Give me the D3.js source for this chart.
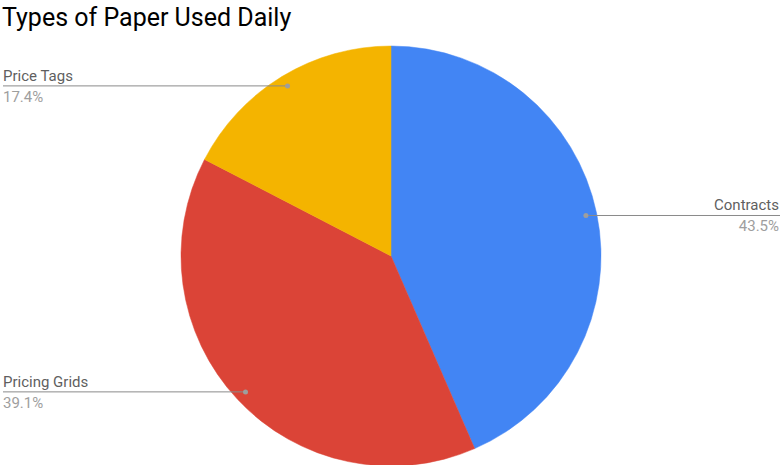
<!DOCTYPE html>
<html><head><meta charset="utf-8">
<script src="https://cdn.jsdelivr.net/npm/d3@7"></script>
<style>body{margin:0;background:#fff}svg{display:block}</style>
</head><body>
<svg id="c" width="780" height="465"></svg>
<script>
const categories = ["Contracts", "Pricing Grids", "Price Tags"];
const values = [10, 9, 4];
const colors = ["#4285f4", "#db4437", "#f4b400"];
const title = "Types of Paper Used Daily";

const W = 780, H = 465, cx = 391, cy = 256, R = 210;
const svg = d3.select("#c");
svg.append("text").attr("x", 2).attr("y", 26)
  .attr("font-family", "Roboto").attr("font-size", 25).attr("fill", "#000").text(title);

const data = categories.map((c, i) => ({name: c, value: values[i], color: colors[i]}));
const total = d3.sum(values);
const pie = d3.pie().value(d => d.value).sort(null);
const arcs = pie(data);
const arc = d3.arc().innerRadius(0).outerRadius(R);
const g = svg.append("g").attr("transform", `translate(${cx},${cy})`);
g.selectAll("path").data(arcs).join("path")
  .attr("d", arc).attr("fill", d => d.data.color)
  .attr("stroke", d => d.data.color).attr("stroke-width", 0.5);

const rDot = R * 0.948;
const fmt = d3.format(".1f");
arcs.forEach(a => {
  const mid = (a.startAngle + a.endAngle) / 2;
  const x = cx + rDot * Math.sin(mid), y = cy - rDot * Math.cos(mid);
  const right = Math.sin(mid) > 0;
  const xe = right ? W : 3;
  svg.append("line").attr("x1", x).attr("y1", y).attr("x2", xe).attr("y2", y)
    .attr("stroke", "#8a8a8a").attr("stroke-width", 1);
  svg.append("circle").attr("cx", x).attr("cy", y).attr("r", 2.5).attr("fill", "#9e9e9e");
  const anchor = right ? "end" : "start";
  const tx = right ? W - 1 : 3;
  svg.append("text").attr("x", tx).attr("y", y - 5).attr("text-anchor", anchor)
    .attr("font-family", "Roboto").attr("font-size", 15).attr("fill", "#5f5f5f").text(a.data.name);
  svg.append("text").attr("x", tx).attr("y", y + 16).attr("text-anchor", anchor)
    .attr("font-family", "Roboto").attr("font-size", 15).attr("fill", "#9e9e9e")
    .text(fmt(a.data.value / total * 100) + "%");
});
</script>
</body></html>
